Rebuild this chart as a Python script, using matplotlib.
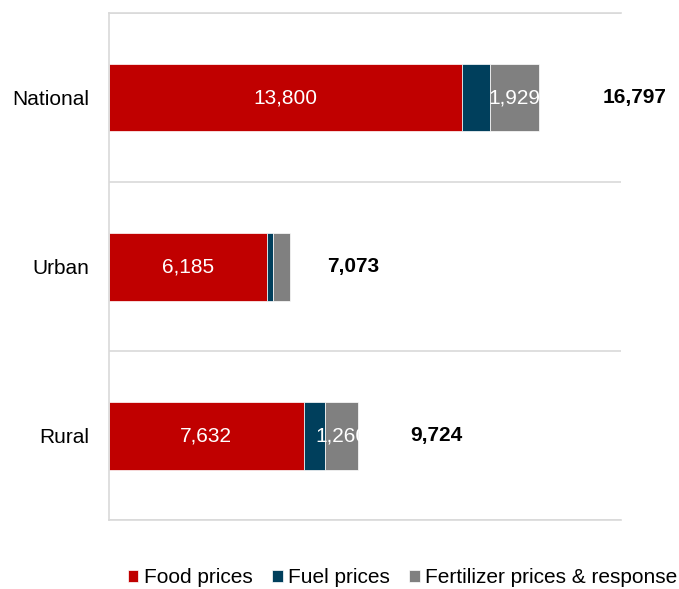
import numpy as np
import matplotlib
matplotlib.use("Agg")
import matplotlib.pyplot as plt

plt.rcParams['font.family'] = ['Liberation Sans', 'DejaVu Sans']

# people affected, by area and shock source
areas = ['National', 'Urban', 'Rural']
food = [13800, 6185, 7632]
fuel = [1068, 219, 832]
fertilizer = [1929, 669, 1260]
totals = [16797, 7073, 9724]
series_names = ['Food prices', 'Fuel prices', 'Fertilizer prices & response']

# segment labels shown only where they were kept
show_fert_label = [True, False, True]
# how far right of the bar end the bold total sits (data units)
total_label_pad = [3740, 2490, 3090]

colors = ['#c00000', '#003f5c', '#808080']
grid_color = '#d9d9d9'
fs = 15

fig = plt.figure(figsize=(6.79, 5.89), dpi=100)
ax = fig.add_axes([0.1598, 0.1163, 0.9146 - 0.1598, 0.9779 - 0.1163])

y = np.arange(len(areas))
left = np.zeros(len(areas))
bars = []
for vals, col, name in zip([food, fuel, fertilizer], colors, series_names):
    b = ax.barh(y, vals, left=left, height=0.4, color=col, edgecolor='white',
                linewidth=0.5, label=name)
    bars.append(b)
    left = left + np.array(vals)

# white value labels inside the segments
for i, v in enumerate(food):
    ax.text(v / 2, y[i], f'{v:,}', ha='center', va='center', color='white', fontsize=fs)
for i, v in enumerate(fertilizer):
    if show_fert_label[i]:
        x = food[i] + fuel[i] + v / 2
        ax.text(x, y[i], f'{v:,}', ha='center', va='center', color='white', fontsize=fs)

# bold totals to the right of each bar
for i, t in enumerate(totals):
    ax.text(t + total_label_pad[i], y[i], f'{t:,}', ha='center', va='center',
            color='black', fontsize=fs, fontweight='bold')

ax.set_xlim(0, 20000)
ax.set_ylim(len(areas) - 0.5, -0.5)
ax.set_yticks(y)
ax.set_yticklabels(areas, fontsize=fs)
ax.tick_params(axis='y', length=0, pad=14)
ax.set_xticks([])

# light lines between the categories
ax.set_yticks(np.arange(-0.5, len(areas)), minor=True)
ax.tick_params(axis='y', which='minor', length=0)
ax.grid(True, axis='y', which='minor', color=grid_color, linewidth=1.2)
ax.set_axisbelow(True)

for side in ['top', 'bottom', 'left']:
    ax.spines[side].set_color(grid_color)
    ax.spines[side].set_linewidth(1.2)
ax.spines['right'].set_visible(False)

fig.legend(handles=bars, labels=series_names, loc='center',
           bbox_to_anchor=(0.593, 0.019), ncol=3, frameon=False, fontsize=fs,
           handlelength=0.5, handleheight=0.5, handletextpad=0.25,
           columnspacing=0.95, borderaxespad=0, borderpad=0)

fig.savefig('out.png', dpi=100)
